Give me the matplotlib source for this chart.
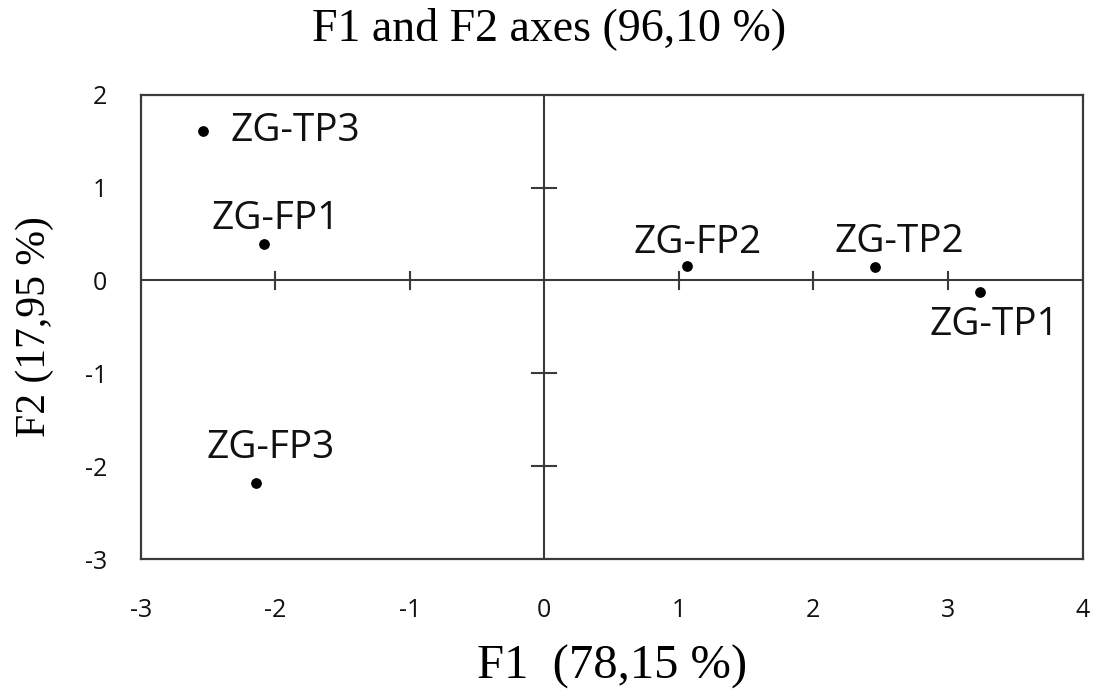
import matplotlib
matplotlib.use('Agg')
import matplotlib.pyplot as plt

plt.rcParams['axes.unicode_minus'] = False

# PCA scores (F1, F2)
names = ['ZG-TP3', 'ZG-FP1', 'ZG-FP2', 'ZG-TP2', 'ZG-TP1', 'ZG-FP3']
f1 = [-2.54, -2.08, 1.06, 2.46, 3.24, -2.14]
f2 = [1.61, 0.39, 0.15, 0.14, -0.12, -2.18]

x_ticks = [-3, -2, -1, 0, 1, 2, 3, 4]
y_ticks = [-3, -2, -1, 0, 1, 2]

# label offsets (points) relative to each dot
offsets = {
    'ZG-TP3': (20, 0, 'left', 'center'),
    'ZG-FP1': (8, 18, 'center', 'center'),
    'ZG-FP2': (8, 17, 'center', 'center'),
    'ZG-TP2': (17, 18, 'center', 'center'),
    'ZG-TP1': (10, -24, 'center', 'center'),
    'ZG-FP3': (10, 25, 'center', 'center'),
}

line_col = '#3a3a3a'
sans = 'Open Sans'
serif = 'Liberation Serif'

fig = plt.figure(figsize=(10.99, 6.91), dpi=100)
ax = fig.add_axes([0.128, 0.191, 0.857, 0.672])
ax.set_xlim(-3, 4)
ax.set_ylim(-3, 2)

for s in ax.spines.values():
    s.set_color(line_col)
    s.set_linewidth(1.6)

# central axes lines with their own small tick marks
ax.axhline(0, color=line_col, lw=1.5)
ax.axvline(0, color=line_col, lw=1.5)
for t in x_ticks[1:-1]:
    if t != 0:
        ax.plot([t, t], [-0.09, 0.09], color=line_col, lw=1.5)
for t in y_ticks[1:-1]:
    if t != 0:
        ax.plot([-0.09, 0.09], [t, t], color=line_col, lw=1.5)

ax.scatter(f1, f2, s=45, color='black', zorder=3)
for n, x, y in zip(names, f1, f2):
    dx, dy, ha, va = offsets[n]
    ax.annotate(n, (x, y), xytext=(dx, dy), textcoords='offset points',
                ha=ha, va=va, fontsize=28, family=sans, color='#111111')

ax.set_xticks(x_ticks)
ax.set_yticks(y_ticks)
ax.tick_params(length=0, labelsize=18, colors='#111111')
ax.tick_params(axis='x', pad=28)
ax.tick_params(axis='y', pad=24)
for lab in ax.get_xticklabels() + ax.get_yticklabels():
    lab.set_family(sans)

ax.set_xlabel('F1  (78,15 %)', family=serif, fontsize=35, labelpad=16)
ax.set_ylabel('F2 (17,95 %)', family=serif, fontsize=30, labelpad=22)
fig.suptitle('F1 and F2 axes (96,10 %)', family=serif, fontsize=33, y=0.99)

fig.savefig('out.png', dpi=100)
